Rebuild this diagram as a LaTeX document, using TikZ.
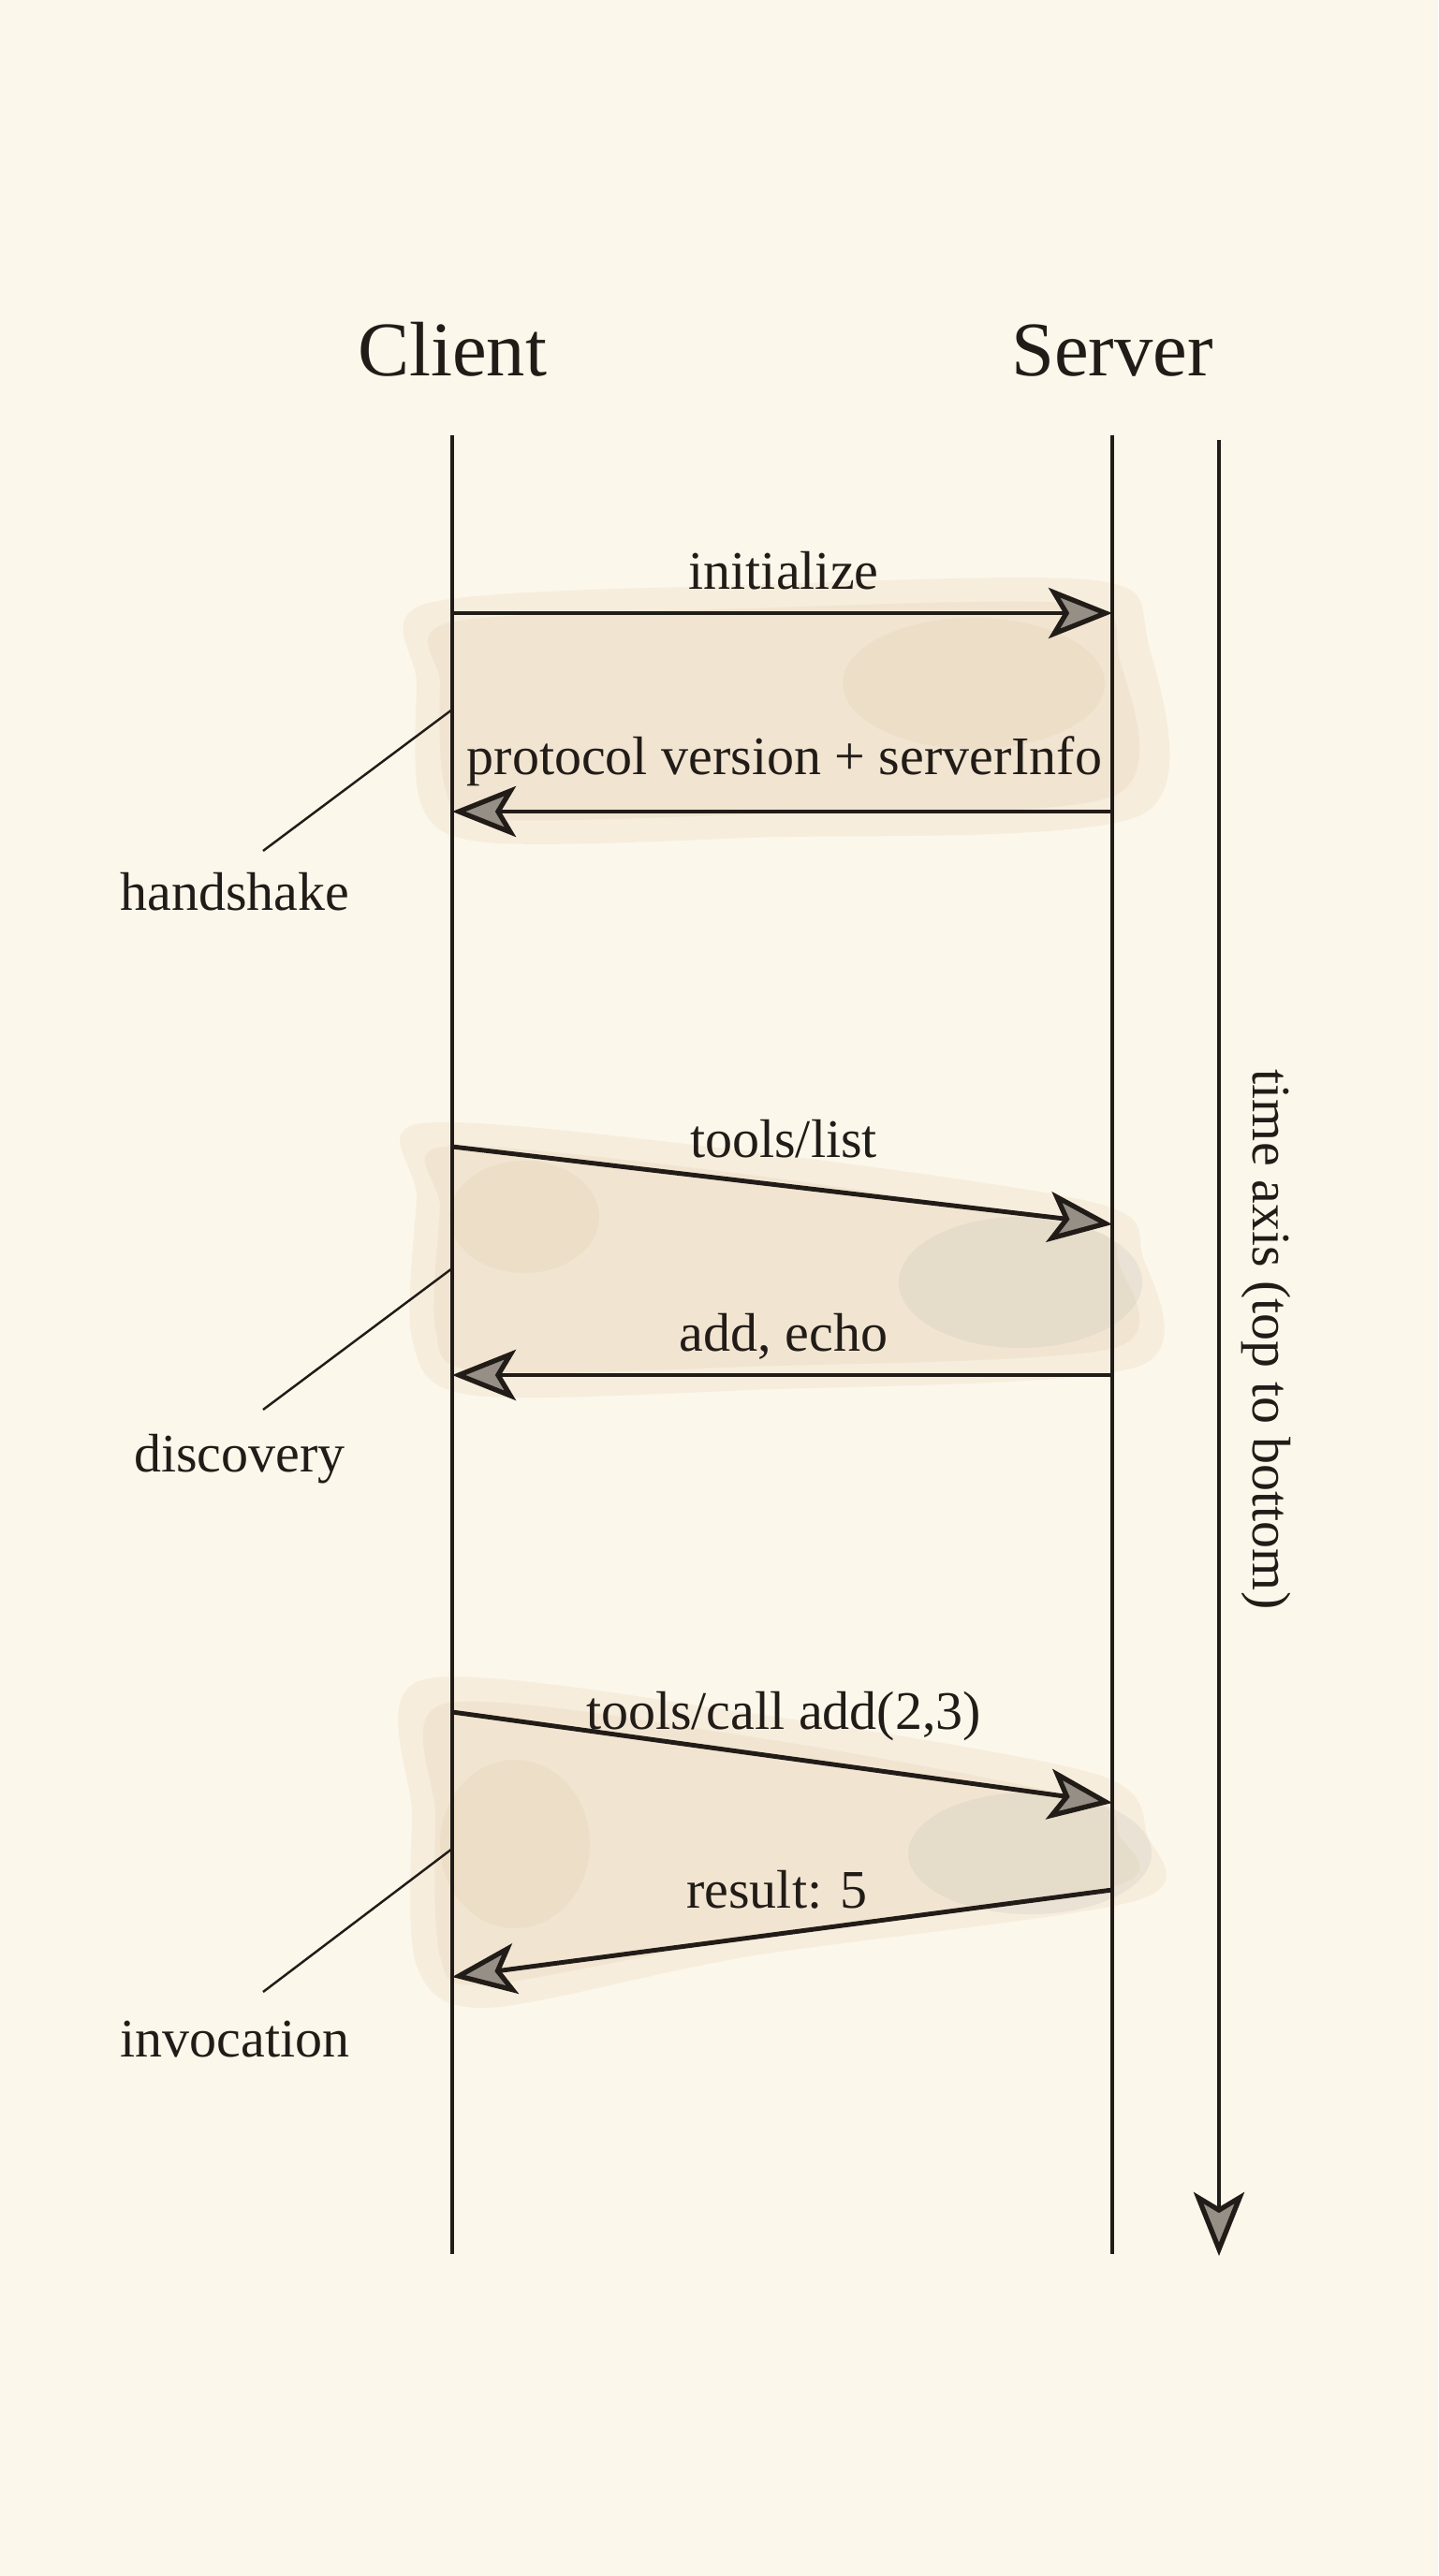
\documentclass[tikz,border=0pt]{standalone}
\usepackage{fontspec}
\setmainfont{Liberation Serif}
\usetikzlibrary{arrows.meta,calc}
\definecolor{paper}{HTML}{FCF7EB}
\definecolor{ink}{HTML}{221C18}
\definecolor{tipgrey}{HTML}{968F86}
\definecolor{tanwash}{HTML}{D8BF98}
\definecolor{greywash}{HTML}{BDB9B2}

\begin{document}
\begin{tikzpicture}[
    life/.style={ink, line width=1.1pt},
    msg/.style={ink, line width=1.4pt,
      -{Stealth[length=6.8mm,width=5.4mm,inset=1.6mm,fill=tipgrey,line width=1.5pt]}},
    lead/.style={ink, line width=0.7pt},
    lbl/.style={font=\fontsize{16.5}{19}\selectfont, text=ink, anchor=base, inner sep=0pt},
    head/.style={font=\fontsize{23.5}{27}\selectfont, text=ink, anchor=base, inner sep=0pt},
    wash/.style={fill=tanwash, opacity=0.16, draw=none},
    fog/.style={fill=greywash, opacity=0.2, draw=none},
  ]
    \fill[paper] (0,0) rectangle (15.36,-27.52);
    \useasboundingbox (0,0) rectangle (15.36,-27.52);

    \fill[wash] plot[smooth cycle] coordinates {(4.55,-6.45) (8,-6.25) (11.7,-6.2)
      (12.25,-6.8) (12.2,-8.7) (8,-8.95) (5.2,-9.0) (4.5,-8.6) (4.45,-7.3)};
    \fill[wash] plot[smooth cycle] coordinates {(4.8,-6.65) (8,-6.5) (11.5,-6.45)
      (11.95,-7.0) (11.9,-8.5) (8,-8.7) (5.2,-8.75) (4.75,-8.4) (4.7,-7.3)};
    \fill[wash] (10.4,-7.3) ellipse (1.4 and 0.7);

    \fill[wash] plot[smooth cycle] coordinates {(4.5,-12.0) (8,-12.3) (11.7,-12.85)
      (12.2,-13.4) (12.15,-14.6) (8,-14.85) (5.0,-14.9) (4.4,-14.3) (4.45,-12.8)};
    \fill[wash] plot[smooth cycle] coordinates {(4.75,-12.25) (8,-12.55) (11.5,-13.1)
      (11.95,-13.5) (11.9,-14.4) (8,-14.6) (5.1,-14.65) (4.65,-14.2) (4.7,-12.9)};
    \fill[fog] (10.9,-13.7) ellipse (1.3 and 0.7);
    \fill[wash] (5.6,-13.0) ellipse (0.8 and 0.6);

    \fill[wash] plot[smooth cycle] coordinates {(4.5,-17.95) (8,-18.3) (11.7,-18.95)
      (12.25,-19.6) (12.15,-20.3) (8,-20.9) (5.2,-21.45) (4.45,-21.0) (4.4,-19.4)};
    \fill[wash] plot[smooth cycle] coordinates {(4.75,-18.2) (8,-18.55) (11.5,-19.2)
      (11.95,-19.6) (11.9,-20.15) (8,-20.7) (5.2,-21.2) (4.7,-20.9) (4.65,-19.4)};
    \fill[fog] (11.0,-19.8) ellipse (1.3 and 0.65);
    \fill[wash] (5.5,-19.7) ellipse (0.8 and 0.9);

    \coordinate (ctop) at (4.83,-4.65);
    \coordinate (cbot) at (4.83,-24.08);
    \coordinate (stop) at (11.88,-4.65);
    \coordinate (sbot) at (11.88,-24.08);
    \coordinate (ttop) at (13.02,-4.70);
    \coordinate (tbot) at (13.02,-24.10);

    \node[head] (client) at (4.83,-4.02) {Client};
    \node[head] (server) at (11.88,-4.02) {Server};

    \draw[life] (ctop) -- (cbot);
    \draw[life] (stop) -- (sbot);
    \draw[msg] (ttop) -- (tbot);
    \node[lbl, anchor=center, rotate=-90] (timeaxis) at (13.52,-14.31) {time axis (top to bottom)};

    \coordinate (c1) at (4.83,-6.55);
    \coordinate (s1) at (11.88,-6.55);
    \coordinate (s2) at (11.88,-8.67);
    \coordinate (c2) at (4.83,-8.67);
    \coordinate (c3) at (4.83,-12.25);
    \coordinate (s3) at (11.88,-13.08);
    \coordinate (s4) at (11.88,-14.69);
    \coordinate (c4) at (4.83,-14.69);
    \coordinate (c5) at (4.83,-18.29);
    \coordinate (s5) at (11.88,-19.26);
    \coordinate (s6) at (11.88,-20.19);
    \coordinate (c6) at (4.83,-21.12);

    \draw[msg] (c1) -- (s1);
    \draw[msg] (s2) -- (c2);
    \draw[msg] (c3) -- (s3);
    \draw[msg] (s4) -- (c4);
    \draw[msg] (c5) -- (s5);
    \draw[msg] (s6) -- (c6);

    \node[lbl] (init) at (8.37,-6.30) {initialize};
    \node[lbl] (proto) at (8.38,-8.27) {protocol version + serverInfo};
    \node[lbl] (tlist) at (8.37,-12.36) {tools/list};
    \node[lbl] (addecho) at (8.37,-14.43) {add, echo};
    \node[lbl] (tcall) at (8.37,-18.47) {tools/call add(2,3)};
    \node[lbl] (result) at (8.30,-20.38) {result: 5};

    \coordinate (h1) at (4.83,-7.58);
    \coordinate (h2) at (2.81,-9.09);
    \coordinate (d1) at (4.83,-13.55);
    \coordinate (d2) at (2.81,-15.06);
    \coordinate (i1) at (4.83,-19.75);
    \coordinate (i2) at (2.81,-21.28);

    \draw[lead] (h1) -- (h2);
    \draw[lead] (d1) -- (d2);
    \draw[lead] (i1) -- (i2);

    \node[lbl] (handshake) at (2.51,-9.72) {handshake};
    \node[lbl] (discovery) at (2.56,-15.72) {discovery};
    \node[lbl] (invocation) at (2.51,-21.97) {invocation};
\end{tikzpicture}
\end{document}
